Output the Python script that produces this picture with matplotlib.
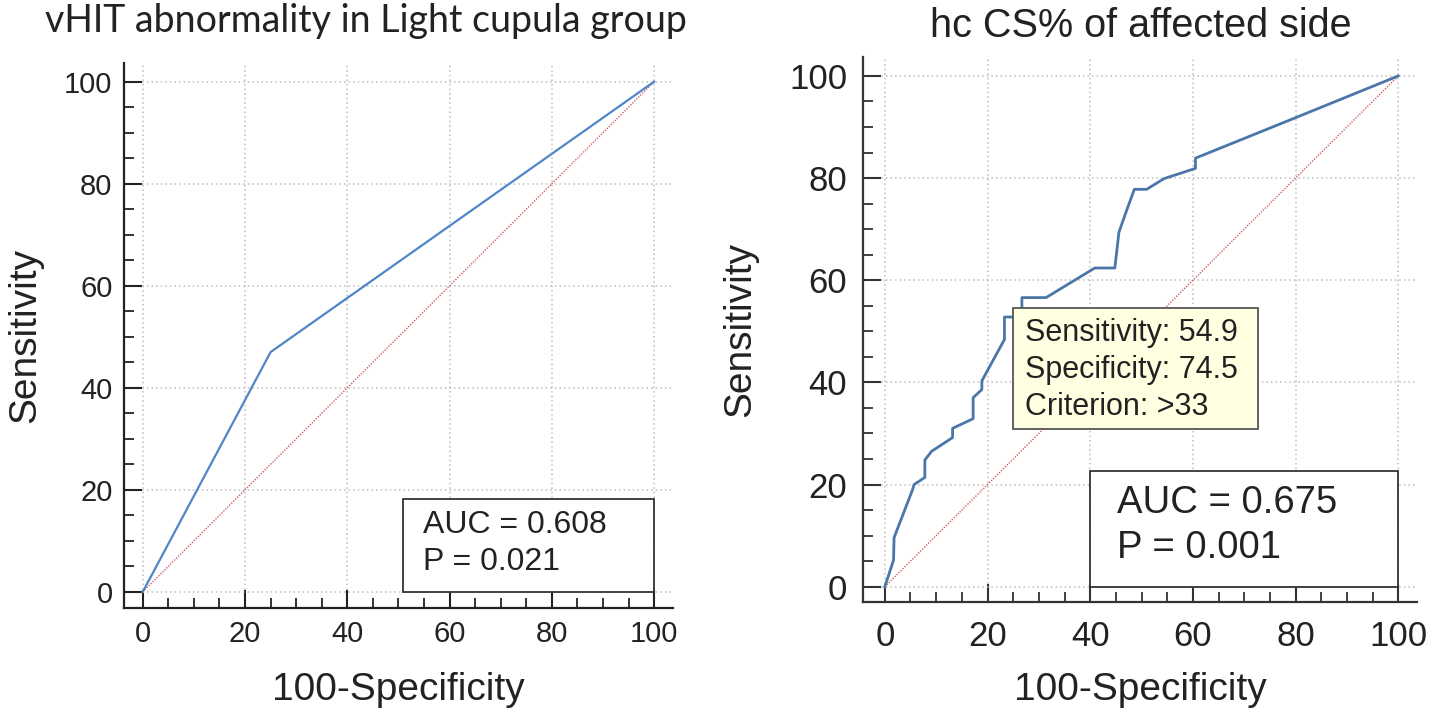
import matplotlib
matplotlib.use("Agg")
import matplotlib.pyplot as plt
from matplotlib.patches import Rectangle
from matplotlib.ticker import MultipleLocator

plt.rcParams["font.family"] = ["Liberation Sans", "DejaVu Sans"]

# ===========================
# DATA
# ===========================
# left: vHIT abnormality ROC
vhit_fpr = [0, 25, 100]
vhit_tpr = [0, 47, 100]
vhit_auc = "AUC = 0.608"
vhit_p = "P = 0.021"

# right: hc CS% ROC (step curve)
cs_fpr = [0, 1.7, 1.8, 5.4, 5.7, 7.8, 7.8, 9.1, 13.2, 13.2, 17.2, 17.2, 18.9, 18.9,
          23.3, 23.3, 26.7, 26.7, 31.4, 40.9, 44.8, 45.6, 47.0, 48.6, 51.0, 54.4,
          60.5, 60.5, 79.7, 100]
cs_tpr = [0, 5.2, 9.6, 19.0, 20.0, 21.4, 24.8, 26.5, 29.2, 31.0, 32.9, 37.0, 38.6, 40.3,
          48.4, 52.8, 52.8, 56.6, 56.6, 62.4, 62.4, 69.4, 73.4, 77.8, 77.8, 79.9,
          81.9, 83.9, 91.7, 100]
cs_auc = "AUC = 0.675"
cs_p = "P = 0.001"
cs_tip = ["Sensitivity: 54.9", "Specificity: 74.5", "Criterion: >33"]

diag = [0, 100]
ticks = [0, 20, 40, 60, 80, 100]

# ===========================
# Figure
# ===========================
fig = plt.figure(figsize=(14.29, 7.22), dpi=100)
fig.patch.set_facecolor("white")

ax1 = fig.add_axes([0.0870, 0.1583, 0.3840, 0.7540])
ax2 = fig.add_axes([0.6041, 0.1666, 0.3873, 0.7544])


def style_axis(ax, xlim, ylim, tsize, xpad, ypad, spine_col):
    ax.set_xlim(*xlim)
    ax.set_ylim(*ylim)
    ax.set_xticks(ticks)
    ax.set_yticks(ticks)
    ax.xaxis.set_minor_locator(MultipleLocator(5))
    ax.yaxis.set_minor_locator(MultipleLocator(5))
    for s in ["top", "right"]:
        ax.spines[s].set_visible(False)
    for s in ["left", "bottom"]:
        ax.spines[s].set_linewidth(1.6)
        ax.spines[s].set_color(spine_col)
    ax.tick_params(which="major", direction="in", length=13, width=1.5,
                   color=spine_col, labelsize=tsize, labelcolor="#222222")
    ax.tick_params(which="minor", direction="in", length=7, width=1.3, color=spine_col)
    ax.tick_params(axis="x", which="major", pad=xpad)
    ax.tick_params(axis="y", which="major", pad=ypad)
    ax.grid(True, which="major", linestyle=(0, (1, 2)), color="#bdbdbd", linewidth=1.1)
    ax.set_axisbelow(True)


# ---- left panel ----
style_axis(ax1, (-3.6, 103.7), (-3.1, 103.6), 21, 9, 8.5, "#222222")
ax1.plot(diag, diag, color="#d45f62", linestyle=(0, (1, 1)), linewidth=1.0, zorder=3)
ax1.plot(vhit_fpr, vhit_tpr, color="#4f86c6", linewidth=1.6, zorder=4)
ax1.add_patch(Rectangle((50.8, 0), 49.2, 18.3, facecolor="white",
                        edgecolor="#333333", linewidth=1.3, zorder=5))
ax1.text(54.8, 13.1, vhit_auc, fontsize=23, va="center", ha="left", color="#222222", zorder=6)
ax1.text(54.8, 5.8, vhit_p, fontsize=23, va="center", ha="left", color="#222222", zorder=6)

ax1.set_xlabel("100-Specificity", fontsize=28, color="#222222")
ax1.xaxis.set_label_coords(0.5, -0.151)
ax1.xaxis.label.set_va("center")
ax1.set_ylabel("Sensitivity", fontsize=28, color="#222222")
ax1.yaxis.set_label_coords(-0.181, 0.5)
ax1.yaxis.label.set_va("center")

fig.text(366 / 1429, 1 - 32 / 722, "vHIT abnormality in Light cupula group",
         family=["Lato", "DejaVu Sans"], fontsize=27, ha="center", va="baseline",
         color="#222222")

# ---- right panel ----
style_axis(ax2, (-4.2, 103.6), (-2.94, 103.7), 25, 13, 11.5, "#333333")
ax2.plot(diag, diag, color="#d45f62", linestyle=(0, (1, 1)), linewidth=1.0, zorder=3)
ax2.plot(cs_fpr, cs_tpr, color="#4a76a8", linewidth=2.0, zorder=4)

ax2.add_patch(Rectangle((25.0, 30.9), 47.7, 23.6, facecolor="#ffffe1",
                        edgecolor="#555555", linewidth=1.3, zorder=5))
for txt, yy in zip(cs_tip, [49.6, 42.4, 35.2]):
    ax2.text(27.3, yy, txt, fontsize=22, va="center", ha="left", color="#222222", zorder=6)

ax2.add_patch(Rectangle((40.0, 0), 60.0, 22.7, facecolor="white",
                        edgecolor="#333333", linewidth=1.3, zorder=5))
ax2.text(45.2, 16.3, cs_auc, fontsize=27.5, va="center", ha="left", color="#222222", zorder=6)
ax2.text(45.2, 7.5, cs_p, fontsize=27.5, va="center", ha="left", color="#222222", zorder=6)

ax2.set_xlabel("100-Specificity", fontsize=28, color="#222222")
ax2.xaxis.set_label_coords(0.5, -0.162)
ax2.xaxis.label.set_va("center")
ax2.set_ylabel("Sensitivity", fontsize=28, color="#222222")
ax2.yaxis.set_label_coords(-0.223, 0.5)
ax2.yaxis.label.set_va("center")

fig.text(1141 / 1429, 1 - 37 / 722, "hc CS% of affected side",
         fontsize=28.5, ha="center", va="baseline", color="#222222")

plt.savefig("out.png", dpi=100)
